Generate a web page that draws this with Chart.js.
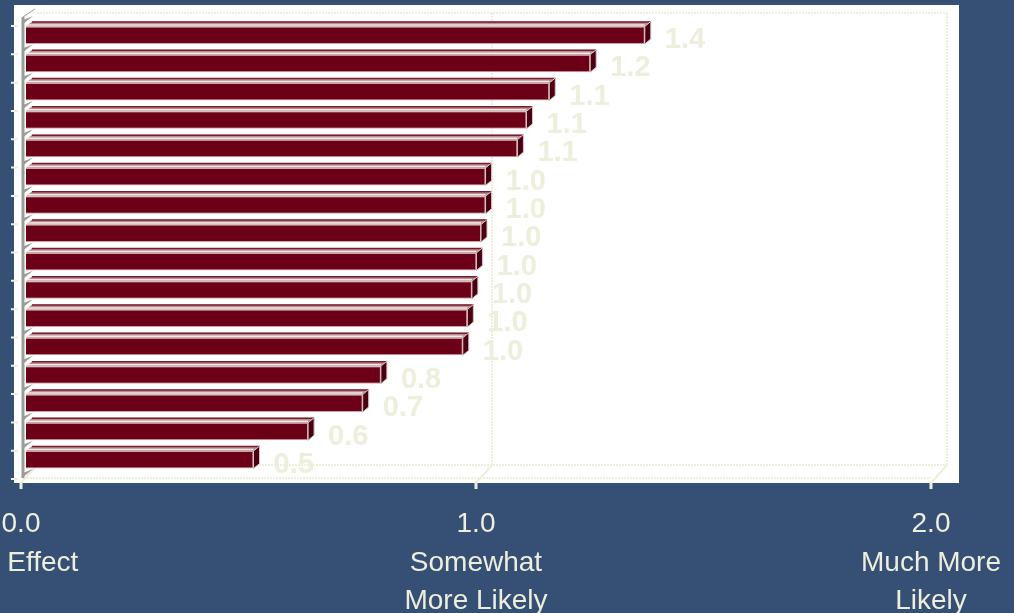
<!DOCTYPE html>
<html>
<head>
<meta charset="utf-8">
<script src="https://cdn.jsdelivr.net/npm/chart.js@4.4.1/dist/chart.umd.min.js"></script>
<style>
  html, body { margin: 0; padding: 0; background: #365075; }
  #wrap { width: 1014px; height: 613px; position: relative; }
</style>
</head>
<body>
<div id="wrap"><canvas id="effectChart"></canvas></div>
<script>
// categories are not labelled in the picture
const categories = ['1', '2', '3', '4', '5', '6', '7', '8', '9', '10', '11', '12', '13', '14', '15', '16'];
const effectValues = [1.36, 1.24, 1.15, 1.10, 1.08, 1.01, 1.01, 1.00, 0.99, 0.98, 0.97, 0.96, 0.78, 0.74, 0.62, 0.50];
const tickValues = [0, 1, 2];
const tickLabels = [['0.0', 'No Effect'], ['1.0', 'Somewhat', 'More Likely'], ['2.0', 'Much More', 'Likely']];

const cream = '#eeeedc';
const FRONT = { dx: -5, dy: 3 };
const BACK = { dx: 11, dy: -9 };
const DEPTH = { dx: 6, dy: -5 };

// white plot panel + back walls, drawn before the bars
const backdrop = {
  id: 'backdrop',
  beforeDatasetsDraw(chart) {
    const { ctx, chartArea: a, scales } = chart;
    const x = scales.x;
    ctx.save();
    ctx.fillStyle = '#ffffff';
    ctx.fillRect(a.left - 12, a.top - 16, a.right - a.left + 35, a.bottom - a.top + 25);

    ctx.strokeStyle = cream;
    ctx.lineWidth = 2;
    ctx.setLineDash([2, 1]);
    const bTop = a.top + BACK.dy + 1, bBot = a.bottom + BACK.dy;
    ctx.beginPath();
    ctx.moveTo(a.left + BACK.dx, bTop); ctx.lineTo(a.right + BACK.dx, bTop);
    ctx.moveTo(a.left + BACK.dx, bBot); ctx.lineTo(a.right + BACK.dx, bBot);
    ctx.moveTo(a.left + FRONT.dx, a.bottom + FRONT.dy + 1); ctx.lineTo(a.right + FRONT.dx, a.bottom + FRONT.dy + 1);
    tickValues.slice(1).forEach(v => {
      const px = x.getPixelForValue(v) + BACK.dx;
      ctx.moveTo(px, bTop); ctx.lineTo(px, bBot);
    });
    ctx.stroke();
    ctx.setLineDash([]);
    // depth diagonals + tick marks under the panel
    ctx.beginPath();
    tickValues.forEach(v => {
      const px = x.getPixelForValue(v);
      ctx.moveTo(px + FRONT.dx, a.bottom + FRONT.dy + 6);
      ctx.lineTo(px + BACK.dx, bBot);
    });
    ctx.stroke();
    ctx.lineWidth = 3;
    ctx.beginPath();
    tickValues.forEach(v => {
      const px = x.getPixelForValue(v) + FRONT.dx;
      ctx.moveTo(px, a.bottom + FRONT.dy + 4); ctx.lineTo(px, a.bottom + 15);
    });
    ctx.stroke();

    // left wall
    const step = (a.bottom - a.top) / categories.length;
    const wallX = a.left - 3;
    ctx.strokeStyle = '#9a9c98';
    ctx.lineWidth = 3;
    ctx.beginPath();
    ctx.moveTo(wallX, a.top - 4); ctx.lineTo(wallX, a.bottom + 4);
    ctx.stroke();
    ctx.fillStyle = '#9a9c98';
    ctx.lineWidth = 1;
    for (let i = 0; i <= categories.length; i++) {
      const yb = a.top + i * step - 1;
      ctx.beginPath();
      ctx.moveTo(wallX, yb + 4);
      ctx.lineTo(wallX, yb);
      ctx.lineTo(wallX + 10, yb - 4);
      ctx.closePath();
      ctx.fill();
    }
    ctx.strokeStyle = '#9a9c98';
    ctx.beginPath();
    ctx.moveTo(wallX, a.top - 4); ctx.lineTo(wallX + 12, a.top - 12);
    ctx.stroke();
    // small category ticks on the left
    ctx.strokeStyle = cream;
    ctx.lineWidth = 2;
    ctx.beginPath();
    for (let i = 0; i <= categories.length; i++) {
      const yb = a.top + i * step + 5;
      ctx.moveTo(a.left - 15, yb); ctx.lineTo(a.left - 8, yb);
    }
    ctx.stroke();
    ctx.restore();
  }
};

// top and side faces of each bar, plus value labels
const bars3d = {
  id: 'bars3d',
  afterDatasetsDraw(chart) {
    const { ctx } = chart;
    const meta = chart.getDatasetMeta(0);
    ctx.save();
    meta.data.forEach((bar, i) => {
      const { x, y, base, height } = bar.getProps(['x', 'y', 'base', 'height'], true);
      const top = y - height / 2, bot = y + height / 2;
      // top face
      ctx.fillStyle = '#b89094';
      ctx.beginPath();
      ctx.moveTo(base, top); ctx.lineTo(x, top);
      ctx.lineTo(x + DEPTH.dx, top + DEPTH.dy); ctx.lineTo(base + DEPTH.dx, top + DEPTH.dy);
      ctx.closePath(); ctx.fill();
      ctx.strokeStyle = '#7a1a2a';
      ctx.lineWidth = 1.5;
      ctx.beginPath();
      ctx.moveTo(base + DEPTH.dx, top + DEPTH.dy + 0.5); ctx.lineTo(x + DEPTH.dx, top + DEPTH.dy + 0.5);
      ctx.stroke();
      ctx.strokeStyle = '#f2e8e4';
      ctx.beginPath();
      ctx.moveTo(base, top - 1.5); ctx.lineTo(x, top - 1.5);
      ctx.stroke();
      // side face
      ctx.fillStyle = '#4a0010';
      ctx.beginPath();
      ctx.moveTo(x, top); ctx.lineTo(x + DEPTH.dx, top + DEPTH.dy);
      ctx.lineTo(x + DEPTH.dx, bot + DEPTH.dy); ctx.lineTo(x, bot);
      ctx.closePath(); ctx.fill();
      ctx.strokeStyle = '#d8c4c0';
      ctx.lineWidth = 1;
      ctx.stroke();
      // value label
      ctx.fillStyle = cream;
      ctx.font = 'bold 29px "Liberation Sans", Arial, sans-serif';
      ctx.textAlign = 'left';
      ctx.textBaseline = 'middle';
      ctx.fillText(effectValues[i].toFixed(1), x + 20, y + 5);
    });
    ctx.restore();
  }
};

new Chart(document.getElementById('effectChart'), {
  type: 'bar',
  data: {
    labels: categories,
    datasets: [{
      data: effectValues,
      backgroundColor: '#6c0016',
      borderColor: '#caa6a8',
      borderWidth: 1,
      borderSkipped: 'start',
      barPercentage: 0.62,
      categoryPercentage: 1.0
    }]
  },
  options: {
    indexAxis: 'y',
    responsive: true,
    maintainAspectRatio: false,
    animation: false,
    layout: { autoPadding: false, padding: { left: 26, right: 78, top: 21, bottom: 0 } },
    plugins: { legend: { display: false }, tooltip: { enabled: false } },
    scales: {
      y: { display: false },
      x: {
        min: 0, max: 2,
        afterBuildTicks: s => { s.ticks = tickValues.map(v => ({ value: v })); },
        afterFit: s => { s.height = 139; s.paddingLeft = 0; s.paddingRight = 0; },
        grid: { display: false, drawTicks: false },
        border: { display: false },
        ticks: {
          color: cream,
          padding: 31,
          labelOffset: -5,
          maxRotation: 0,
          autoSkip: false,
          font: { family: '"Liberation Sans", Arial, sans-serif', size: 28, lineHeight: 1.38 },
          callback: (v, i) => tickLabels[i]
        }
      }
    }
  },
  plugins: [backdrop, bars3d]
});
</script>
</body>
</html>
